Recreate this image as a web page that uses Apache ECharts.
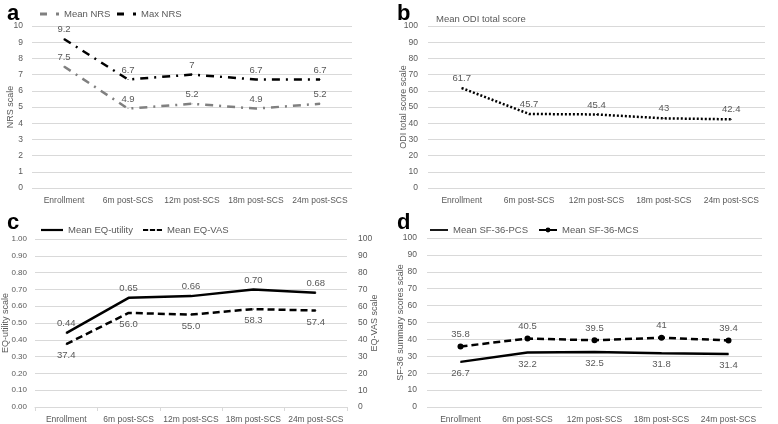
<!DOCTYPE html>
<html><head><meta charset="utf-8">
<script src="https://cdn.jsdelivr.net/npm/echarts@6/dist/echarts.min.js"></script>
<style>html,body{margin:0;padding:0;background:#fff}#c{width:778px;height:424px}</style>
</head><body><div id="c"></div>
<script>
var categories = ['Enrollment','6m post-SCS','12m post-SCS','18m post-SCS','24m post-SCS'];
var meanNRS = [7.5,4.9,5.2,4.9,5.2];
var maxNRS = [9.2,6.7,7,6.7,6.7];
var meanODI = [61.7,45.7,45.4,43,42.4];
var eqUtility = [0.44,0.65,0.66,0.70,0.68];
var eqVAS = [37.4,56.0,55.0,58.3,57.4];
var sfPCS = [26.7,32.2,32.5,31.8,31.4];
var sfMCS = [35.8,40.5,39.5,41,39.4];

var FONT = '"Liberation Sans Narrow","Liberation Sans",Arial,sans-serif';
var TXT = '#595959';
var GRID = '#d9d9d9';

function xAx(gi, showLine){
  return {type:'category', gridIndex:gi, data:categories, boundaryGap:true,
    axisLine:{show:!!showLine, lineStyle:{color:GRID}},
    axisTick:{show:!!showLine, lineStyle:{color:GRID}, length:4},
    axisLabel:{color:TXT, fontSize:8.5, fontFamily:FONT, margin:8, interval:0}};
}
function yAx(gi, min, max, interval, name, fmt, pos, gap, margin, fs){
  return {type:'value', gridIndex:gi, min:min, max:max, interval:interval, position:pos||'left',
    name:name, nameLocation:'middle', nameGap:gap, nameMoveOverlap:false,
    nameTextStyle:{color:TXT, fontSize:9, fontFamily:FONT},
    axisLine:{show:false}, axisTick:{show:false},
    splitLine:{show:pos!=='right', lineStyle:{color:GRID, width:1}},
    axisLabel:{color:TXT, fontSize:fs||8.5, fontFamily:FONT, margin:margin, formatter:fmt}};
}
function lbl(pos, fmt){
  return {show:true, position:pos, distance:pos==='top'?4:6, color:TXT, fontSize:9.5, fontFamily:FONT, formatter:fmt};
}
function leg(name, left, top, icon, w, h){
  var d = {name:name};
  if (icon) d.icon = icon;
  return {data:[d], left:left, top:top, padding:0, itemWidth:w, itemHeight:h, textStyle:{color:TXT, fontSize:9.5, fontFamily:FONT}};
}
var f2 = function(p){return p.value.toFixed(2);};
var f1 = function(p){return p.value.toFixed(1);};
var DASHDOT = 'path://M0,0h7v3h-7z M16,0h3v3h-3z';
var SOLID = 'path://M0,0h25v2.5h-25z';
var DASH3 = 'path://M0,0h6v2.5h-6z M8,0h6v2.5h-6z M16,0h6v2.5h-6z';
var TF = 'Liberation Sans,Arial';

var chart = echarts.init(document.getElementById('c'), null, {renderer:'canvas'});
chart.setOption({
  animation:false,
  textStyle:{fontFamily:FONT},
  title:[
    {text:'a', left:2, top:-2, textStyle:{fontSize:22, fontWeight:'bold', color:'#000', fontFamily:TF}},
    {text:'b', left:392, top:-2, textStyle:{fontSize:22, fontWeight:'bold', color:'#000', fontFamily:TF}},
    {text:'c', left:2, top:207, textStyle:{fontSize:22, fontWeight:'bold', color:'#000', fontFamily:TF}},
    {text:'d', left:392, top:207, textStyle:{fontSize:22, fontWeight:'bold', color:'#000', fontFamily:TF}},
    {text:'Mean ODI total score', left:431, top:9, textStyle:{fontSize:9.5, fontWeight:'normal', color:TXT, fontFamily:FONT}}
  ],
  legend:[
    leg('Mean NRS', 40, 9, DASHDOT, 19, 3),
    leg('Max NRS', 117, 9, DASHDOT, 19, 3),
    leg('Mean EQ-utility', 41, 225, SOLID, 22, 2.5),
    leg('Mean EQ-VAS', 143, 225, DASH3, 19, 2.5),
    leg('Mean SF-36-PCS', 430, 225, SOLID, 18, 2.5),
    leg('Mean SF-36-MCS', 538, 225, null, 18, 6)
  ],
  grid:[
    {left:32, right:426, top:26, bottom:236},
    {left:428, right:13, top:26, bottom:236},
    {left:35, right:431, top:239, bottom:16},
    {left:427, right:16, top:238, bottom:17}
  ],
  xAxis:[xAx(0), xAx(1), xAx(2,true), xAx(3)],
  yAxis:[
    yAx(0,0,10,1,'NRS scale',null,'left',17,9),
    yAx(1,0,100,10,'ODI total score scale',null,'left',20,10),
    yAx(2,0,1,0.1,'EQ-utility scale',function(v){return v.toFixed(2);},'left',25,8,8),
    yAx(2,0,100,10,'EQ-VAS scale',null,'right',23,11),
    yAx(3,0,100,10,'SF-36 summary scores scale',null,'left',22,10)
  ],
  series:[
    {name:'Mean NRS', type:'line', xAxisIndex:0, yAxisIndex:0, data:meanNRS, symbol:'circle', symbolSize:1,
      lineStyle:{color:'#808080', width:2.5, type:[8,6,2,6]}, itemStyle:{color:'#808080'}, label:lbl('top')},
    {name:'Max NRS', type:'line', xAxisIndex:0, yAxisIndex:0, data:maxNRS, symbol:'circle', symbolSize:1,
      lineStyle:{color:'#000', width:2.5, type:[8,6,2,6]}, itemStyle:{color:'#000'}, label:lbl('top')},
    {name:'Mean ODI', type:'line', xAxisIndex:1, yAxisIndex:1, data:meanODI, symbol:'circle', symbolSize:1,
      lineStyle:{color:'#000', width:2.5, type:[2,2]}, itemStyle:{color:'#000'}, label:lbl('top')},
    {name:'Mean EQ-utility', type:'line', xAxisIndex:2, yAxisIndex:2, data:eqUtility, symbol:'circle', symbolSize:1,
      lineStyle:{color:'#000', width:2.5, type:'solid'}, itemStyle:{color:'#000'}, label:lbl('top', f2)},
    {name:'Mean EQ-VAS', type:'line', xAxisIndex:2, yAxisIndex:3, data:eqVAS, symbol:'circle', symbolSize:1,
      lineStyle:{color:'#000', width:2.5, type:[7,4]}, itemStyle:{color:'#000'}, label:lbl('bottom', f1)},
    {name:'Mean SF-36-PCS', type:'line', xAxisIndex:3, yAxisIndex:4, data:sfPCS, symbol:'circle', symbolSize:1,
      lineStyle:{color:'#000', width:2.5, type:'solid'}, itemStyle:{color:'#000'}, label:lbl('bottom')},
    {name:'Mean SF-36-MCS', type:'line', xAxisIndex:3, yAxisIndex:4, data:sfMCS, symbol:'circle', symbolSize:6,
      lineStyle:{color:'#000', width:2.5, type:[7,4]}, itemStyle:{color:'#000'}, label:lbl('top')}
  ]
});
</script></body></html>
